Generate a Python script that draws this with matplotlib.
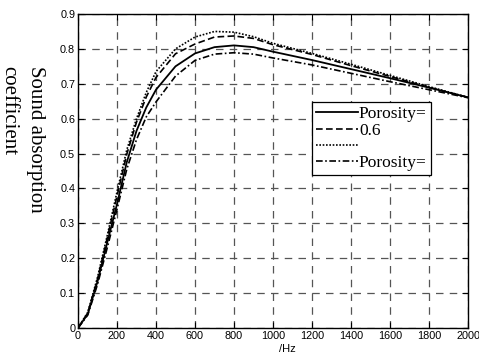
import matplotlib
matplotlib.use("Agg")
import matplotlib.pyplot as plt

# frequency points (Hz) and absorption coefficient
freq = [0, 50, 100, 150, 200, 250, 300, 350, 400, 500, 600, 700, 800,
        900, 1000, 1200, 1400, 1600, 1800, 2000]
alpha_solid = [0, 0.040, 0.133, 0.245, 0.355, 0.475, 0.565, 0.632, 0.683,
               0.750, 0.787, 0.805, 0.810, 0.805, 0.792, 0.768, 0.742,
               0.716, 0.689, 0.661]
alpha_dash = [0, 0.043, 0.140, 0.258, 0.378, 0.498, 0.590, 0.662, 0.718,
              0.786, 0.814, 0.834, 0.837, 0.830, 0.812, 0.784, 0.752,
              0.721, 0.690, 0.661]
alpha_dot = [0, 0.045, 0.145, 0.265, 0.390, 0.510, 0.600, 0.675, 0.735,
             0.800, 0.834, 0.850, 0.848, 0.835, 0.816, 0.787, 0.756,
             0.724, 0.692, 0.661]
alpha_dashdot = [0, 0.037, 0.125, 0.230, 0.340, 0.455, 0.540, 0.605, 0.648,
                 0.722, 0.767, 0.785, 0.789, 0.785, 0.774, 0.754, 0.730,
                 0.706, 0.683, 0.660]
legend_labels = ["Porosity=", "0.6", "", "Porosity="]
xticks = list(range(0, 2001, 200))
yticks = [0, 0.1, 0.2, 0.3, 0.4, 0.5, 0.6, 0.7, 0.8, 0.9]

plt.rcParams["font.family"] = "Liberation Sans"

W, H = 479, 358
fig = plt.figure(figsize=(W / 100, H / 100), dpi=100)
ax = fig.add_axes([78 / W, 1 - 328 / H, 390 / W, 314 / H])

lines = []
lines += ax.plot(freq, alpha_solid, "k-", lw=1.3)
lines += ax.plot(freq, alpha_dash, "k", ls=(0, (4, 2)), lw=1.2)
lines += ax.plot(freq, alpha_dot, "k", ls=(0, (1, 1)), lw=1.2)
lines += ax.plot(freq, alpha_dashdot, "k", ls=(0, (4, 1.5, 1, 1.5)), lw=1.2)

ax.set_xlim(0, 2000)
ax.set_ylim(0, 0.9)
ax.set_xticks(xticks)
ax.set_yticks(yticks)
ax.set_yticklabels([("%g" % v) for v in yticks])
ax.tick_params(direction="in", top=True, right=True, labelsize=7.8,
               length=4, width=0.8, pad=2)
ax.grid(True, color="#555555", ls=(0, (6, 5)), lw=0.9)
for s in ax.spines.values():
    s.set_linewidth(1.0)

leg = ax.legend(lines, legend_labels, loc="upper left",
                bbox_to_anchor=((312 - 78) / 390, (328 - 102) / 314),
                prop={"family": "Liberation Serif", "size": 12.5},
                handlelength=2.4, handletextpad=0.05, labelspacing=0.0,
                borderpad=0.25, borderaxespad=0, fancybox=False,
                framealpha=1, edgecolor="k")
leg.get_frame().set_linewidth(0.9)

# y label: reads downward, second line partly off the left edge
fig.text(45 / W, 1 - 66 / H, "Sound absorption\ncoefficient",
         rotation=270, family="Liberation Serif", fontsize=15,
         ha="right", va="top", multialignment="left", linespacing=1.55)
fig.text(287 / W, 1 - 349 / H, "/Hz", fontsize=8, ha="center", va="center")

fig.savefig("out.png", dpi=100)
